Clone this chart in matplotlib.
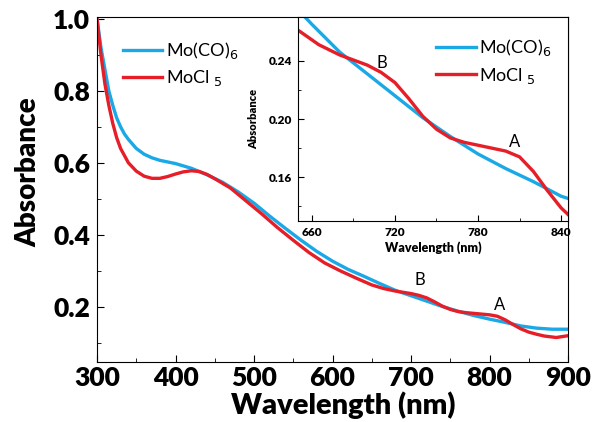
import matplotlib.pyplot as plt
from matplotlib.ticker import MultipleLocator

plt.rcParams['font.family'] = ['Lato', 'DejaVu Sans']

# wavelength (nm) and absorbance
wl_co = [300, 305, 310, 315, 320, 325, 330, 335, 340, 350, 360, 370, 380, 400, 420,
         440, 460, 480, 500, 520, 540, 560, 580, 600, 620, 640, 650, 660, 680, 700,
         720, 740, 760, 780, 800, 820, 840, 860, 880, 900]
abs_co = [1.0, 0.92, 0.86, 0.80, 0.76, 0.725, 0.70, 0.68, 0.665, 0.64, 0.624, 0.614,
          0.607, 0.598, 0.585, 0.567, 0.546, 0.519, 0.488, 0.452, 0.418, 0.385, 0.354,
          0.327, 0.304, 0.285, 0.275, 0.265, 0.246, 0.231, 0.216, 0.201, 0.188, 0.176,
          0.166, 0.157, 0.147, 0.141, 0.138, 0.138]

wl_cl = [300, 305, 310, 315, 320, 325, 330, 340, 350, 360, 370, 380, 390, 400, 410,
         420, 430, 440, 450, 470, 490, 510, 530, 550, 570, 590, 610, 630, 650, 665,
         680, 700, 710, 720, 730, 740, 750, 760, 770, 780, 790, 800, 810, 820, 830,
         840, 850, 860, 870, 885, 900]
abs_cl = [1.0, 0.90, 0.82, 0.76, 0.71, 0.67, 0.64, 0.60, 0.577, 0.563, 0.557, 0.557,
          0.562, 0.569, 0.575, 0.578, 0.576, 0.568, 0.556, 0.53, 0.494, 0.458, 0.42,
          0.385, 0.351, 0.322, 0.300, 0.280, 0.261, 0.251, 0.244, 0.237, 0.232, 0.225,
          0.214, 0.202, 0.193, 0.187, 0.184, 0.182, 0.180, 0.178, 0.174, 0.164, 0.151,
          0.139, 0.130, 0.124, 0.119, 0.115, 0.120]

blue = '#1aa9e6'
red = '#e61e28'

fig = plt.figure(figsize=(5.92, 4.22), dpi=100)
ax = fig.add_axes([0.1639, 0.1422, 0.7956, 0.8175])
ax.plot(wl_co, abs_co, color=blue, lw=2.4, label='Mo(CO)$_6$')
ax.plot(wl_cl, abs_cl, color=red, lw=2.4, label='MoCl$_{\\ 5}$')
ax.set_xlim(300, 900)
ax.set_ylim(0.047, 1.005)
ax.xaxis.set_major_locator(MultipleLocator(100))
ax.xaxis.set_minor_locator(MultipleLocator(50))
ax.yaxis.set_major_locator(MultipleLocator(0.2))
ax.yaxis.set_minor_locator(MultipleLocator(0.1))
ax.tick_params(which='both', direction='in', labelsize=19)
ax.tick_params(axis='x', pad=3)
ax.tick_params(axis='y', pad=5)
ax.tick_params(which='major', length=5)
ax.tick_params(which='minor', length=3)
for lab in ax.get_xticklabels() + ax.get_yticklabels():
    lab.set_fontweight('heavy')
ax.set_xlabel('Wavelength (nm)', fontsize=21, fontweight='heavy')
ax.set_ylabel('Absorbance', fontsize=20, fontweight='heavy')
ax.xaxis.set_label_coords(0.523, -0.085)
ax.yaxis.set_label_coords(-0.118, 0.55)
ax.text(704, 0.262, 'B', fontsize=12)
ax.text(806, 0.192, 'A', fontsize=12)
ax.legend(loc='upper left', bbox_to_anchor=(0.02, 0.98), frameon=False,
          fontsize=13, handlelength=2.2, handletextpad=0.2, labelspacing=0.4)

ins = fig.add_axes([0.5034, 0.4763, 0.4561, 0.4834])
ins.plot(wl_co, abs_co, color=blue, lw=2.4, label='Mo(CO)$_6$')
ins.plot(wl_cl, abs_cl, color=red, lw=2.4, label='MoCl$_{\\ 5}$')
ins.set_xlim(650, 845)
ins.set_ylim(0.13, 0.27)
ins.xaxis.set_major_locator(MultipleLocator(60))
ins.xaxis.set_minor_locator(MultipleLocator(30))
ins.yaxis.set_major_locator(MultipleLocator(0.04))
ins.yaxis.set_minor_locator(MultipleLocator(0.02))
ins.tick_params(which='both', direction='in', labelsize=8.5, pad=4)
ins.tick_params(which='major', length=4)
ins.tick_params(which='minor', length=2)
for lab in ins.get_xticklabels() + ins.get_yticklabels():
    lab.set_fontweight('heavy')
ins.set_xlabel('Wavelength (nm)', fontsize=9, fontweight='heavy', labelpad=3)
ins.set_ylabel('Absorbance', fontsize=8, fontweight='heavy', labelpad=7)
ins.text(707, 0.235, 'B', fontsize=12)
ins.text(802, 0.181, 'A', fontsize=12)
ins.legend(loc='upper right', bbox_to_anchor=(1.0, 0.98), frameon=False,
           fontsize=13, handlelength=2.2, handletextpad=0.2, labelspacing=0.4)

fig.savefig('out.png', dpi=100)
